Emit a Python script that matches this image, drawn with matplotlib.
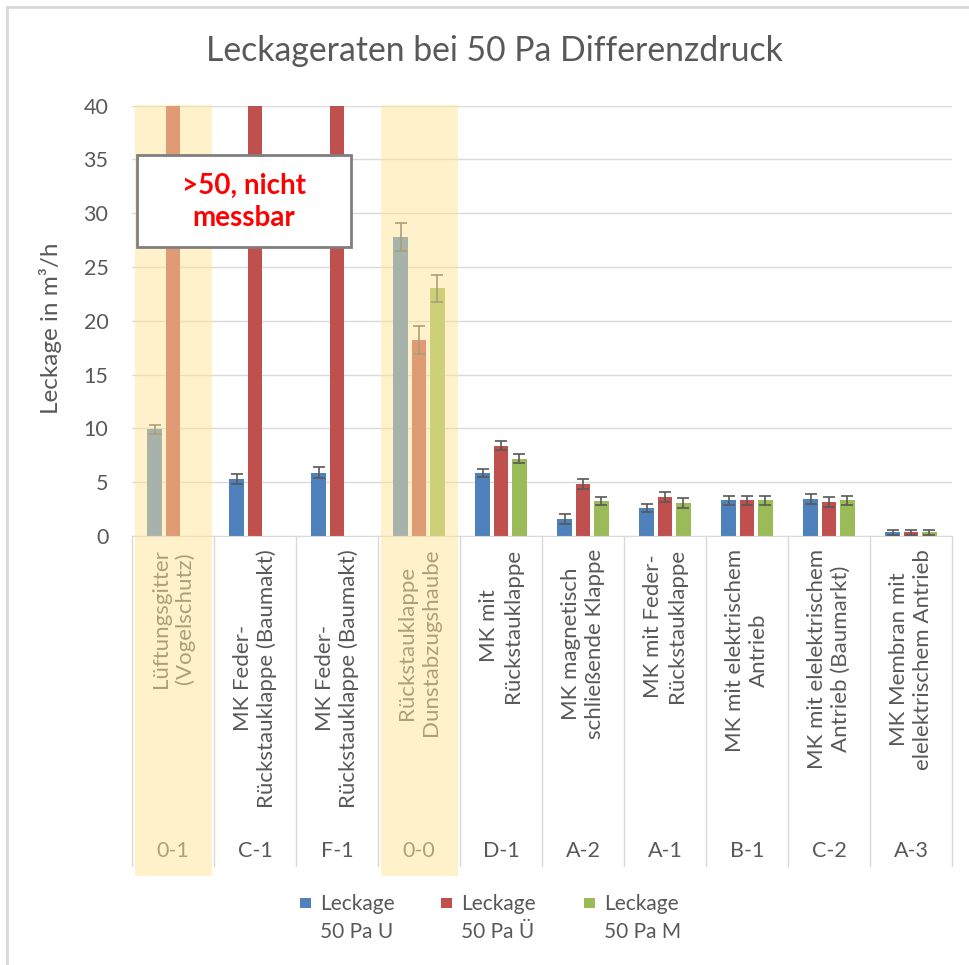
import matplotlib
matplotlib.use("Agg")
import matplotlib.pyplot as plt
import matplotlib.transforms as mtrans
from matplotlib.patches import Rectangle
import numpy as np

plt.rcParams['font.family'] = ['Lato', 'DejaVu Sans']

# data (50 = ">50, nicht messbar", gets clipped at 40)
codes = ['0-1', 'C-1', 'F-1', '0-0', 'D-1', 'A-2', 'A-1', 'B-1', 'C-2', 'A-3']
names = ['Lüftungsgitter\n(Vogelschutz)',
         'MK Feder-\nRückstauklappe (Baumakt)',
         'MK Feder-\nRückstauklappe (Baumakt)',
         'Rückstauklappe\nDunstabzugshaube',
         'MK mit\nRückstauklappe',
         'MK magnetisch\nschließende Klappe',
         'MK mit Feder-\nRückstauklappe',
         'MK mit elektrischem\nAntrieb',
         'MK mit elelektrischem\nAntrieb (Baumarkt)',
         'MK Membran mit\nelelektrischem Antrieb']
leck_u = [9.9, 5.3, 5.9, 27.8, 5.85, 1.6, 2.6, 3.3, 3.45, 0.35]
err_u = [0.45, 0.45, 0.55, 1.3, 0.4, 0.45, 0.4, 0.45, 0.45, 0.25]
leck_ue = [50, 50, 50, 18.2, 8.4, 4.85, 3.65, 3.3, 3.15, 0.35]
err_ue = [0, 0, 0, 1.3, 0.4, 0.45, 0.45, 0.45, 0.45, 0.25]
leck_m = [np.nan, np.nan, np.nan, 23.0, 7.2, 3.25, 3.05, 3.3, 3.3, 0.35]
err_m = [np.nan, np.nan, np.nan, 1.25, 0.45, 0.35, 0.45, 0.45, 0.45, 0.25]
series_labels = ['Leckage\n50 Pa U', 'Leckage\n50 Pa Ü', 'Leckage\n50 Pa M']
colors = ['#4F81BD', '#C0504D', '#9BBB59']
highlight = ['0-1', '0-0']  # reference devices, shaded yellow

W, H = 970, 965
def fx(px): return px / W
def fy(py): return 1 - py / H

grey = '#595959'
fig = plt.figure(figsize=(W / 100, H / 100), dpi=100)
# light frame at top/left like the screenshot
fig.add_artist(plt.Line2D([fx(7), 1], [fy(7), fy(7)], color='#D9D9D9', lw=2))
fig.add_artist(plt.Line2D([fx(7), fx(7)], [fy(7), 0], color='#D9D9D9', lw=2))

ax = fig.add_axes([fx(132), fy(536), (952 - 132) / W, (536 - 105.5) / H])
x = np.arange(len(codes))
bw = 0.176
off = 0.225
for i, (vals, errs) in enumerate([(leck_u, err_u), (leck_ue, err_ue), (leck_m, err_m)]):
    ax.bar(x + (i - 1) * off, vals, bw, color=colors[i], zorder=2)
    ax.errorbar(x + (i - 1) * off, vals, yerr=errs, fmt='none', ecolor=grey,
                elinewidth=1.2, capsize=4.5, capthick=1.2, zorder=3)

ax.set_xlim(-0.5, len(codes) - 0.5)
ax.set_ylim(0, 40)
ax.set_yticks(np.arange(0, 41, 5))
ax.set_xticks([])
ax.tick_params(axis='y', length=0, pad=17, labelsize=15.5, labelcolor=grey)
ax.yaxis.grid(True, color='#D9D9D9', lw=1)
ax.set_axisbelow(True)
for s in ['top', 'left', 'right']:
    ax.spines[s].set_visible(False)
ax.spines['bottom'].set_color('#D9D9D9')

# two level category axis drawn by hand
tr = mtrans.blended_transform_factory(ax.transData, fig.transFigure)
for b in np.arange(len(codes) + 1) - 0.5:
    ax.plot([b, b], [fy(536), fy(866)], color='#D9D9D9', lw=1, transform=tr, clip_on=False)
for i in range(len(codes)):
    ax.text(x[i], fy(549), names[i], rotation=90, ha='center', va='top', multialignment='center',
            linespacing=1.25, fontsize=16, color=grey, transform=tr)
    ax.text(x[i], fy(851), codes[i], ha='center', va='center', fontsize=15.5, color=grey, transform=tr)

# yellow transparent bands over the reference devices
for c in highlight:
    i = codes.index(c)
    ax.add_patch(Rectangle((i - 0.46, fy(876)), 0.93, fy(105.5) - fy(876), transform=tr,
                           facecolor='#FFE699', alpha=0.5, lw=0, zorder=10, clip_on=False))

# note box
fig.add_artist(Rectangle((fx(137), fy(247)), fx(351) - fx(137), fy(155) - fy(247),
                         facecolor='white', edgecolor='#7F7F7F', lw=2))
fig.text(fx(244), fy(202), '>50, nicht\nmessbar', ha='center', va='center', fontsize=20,
         fontweight='bold', color='#FF0000', linespacing=1.3)

fig.text(fx(494), fy(51), 'Leckageraten bei 50 Pa Differenzdruck', ha='center', va='center',
         fontsize=24.3, color=grey)
fig.text(fx(51), fy(328), 'Leckage in m³/h', rotation=90, ha='center', va='center',
         fontsize=17.5, color=grey)

# legend, square next to first line
leg_x = [300, 441, 584]
for i in range(3):
    fig.add_artist(Rectangle((fx(leg_x[i]), fy(908)), fx(11), 10 / H, facecolor=colors[i], lw=0))
    fig.text(fx(leg_x[i] + 20), fy(894), series_labels[i], ha='left', va='top', fontsize=15,
             color=grey, linespacing=1.5)

fig.savefig('out.png', dpi=100)
